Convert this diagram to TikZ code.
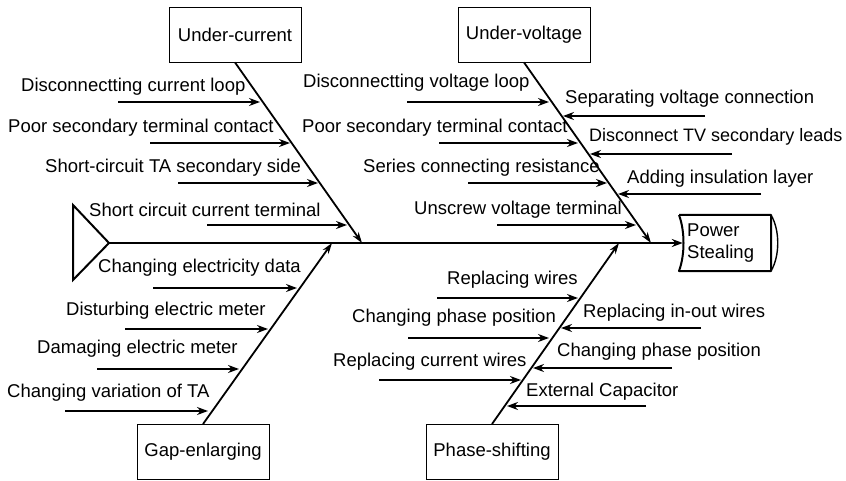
\documentclass[tikz,border=0pt]{standalone}
\usepackage{fontspec}
\setmainfont{Liberation Sans}
\usetikzlibrary{arrows.meta}
\begin{document}
\begin{tikzpicture}[x=1pt,y=-1pt,
  lbl/.style={anchor=west,inner sep=0pt,font=\fontsize{18.5}{20}\selectfont},
  cat/.style={draw,line width=0.9pt,minimum width=132pt,minimum height=55pt,inner sep=0pt,font=\fontsize{18.5}{20}\selectfont},
  bone/.style={line width=1.8pt,-{Stealth[length=11pt,width=7pt]}},
  sub/.style={line width=2.2pt,-{Stealth[length=11pt,width=8pt]}},
  spine/.style={line width=2.2pt,-{Stealth[length=11pt,width=8pt]}}]
\useasboundingbox (0,0) rectangle (846,481);
% head / tail
\coordinate (tip) at (109,243);
\draw[line width=2pt,line join=miter] (73,205) -- (tip) -- (73,280) -- cycle;
\node[inner sep=0pt,minimum width=90pt,minimum height=56pt] (ps) at (728,243) {};
\draw[line width=2pt,line join=round] (679,215) -- (771,215) -- (771,271) -- (679,271)
  .. controls (685,255) and (685,231) .. (679,215);
\draw[line width=1.4pt] (771,215) .. controls (780,230) and (780,256) .. (771,271);
\node[anchor=west,inner sep=0pt,align=left,font=\fontsize{18.5}{22}\selectfont] (pstxt) at (687,243) {Power\\Stealing};
\draw[spine] (tip) -- (ps.west);
% category boxes
\node[cat] (uc) at (235,34.5) {Under-current};
\node[cat] (uv) at (524,34.5) {Under-voltage};
\node[cat] (ge) at (203,452) {Gap-enlarging};
\node[cat] (ph) at (492,452) {Phase-shifting};
% junctions on spine
\coordinate (ucj) at (362,243);
\coordinate (uvj) at (651,243);
\coordinate (gej) at (332,243);
\coordinate (phj) at (619,243);
\draw[bone] (uc.south) -- (ucj);
\draw[bone] (uv.south) -- (uvj);
\draw[bone] (ge.north) -- (gej);
\draw[bone] (ph.north) -- (phj);
% Under-current causes
\coordinate (a1s) at (118,102); \coordinate (a1e) at (260,102);
\coordinate (a2s) at (150,143); \coordinate (a2e) at (290,143);
\coordinate (a3s) at (178,183); \coordinate (a3e) at (318,183);
\coordinate (a4s) at (207,225); \coordinate (a4e) at (347,225);
\draw[sub] (a1s) -- (a1e); \draw[sub] (a2s) -- (a2e);
\draw[sub] (a3s) -- (a3e); \draw[sub] (a4s) -- (a4e);
\node[lbl] (t1) at (21,87) {Disconnectting current loop};
\node[lbl] (t2) at (8,128) {Poor secondary terminal contact};
\node[lbl] (t3) at (45,168) {Short-circuit TA secondary side};
\node[lbl] (t4) at (89,210) {Short circuit current terminal};
% Under-voltage causes (left)
\coordinate (b1s) at (407,102); \coordinate (b1e) at (549,102);
\coordinate (b2s) at (439,143); \coordinate (b2e) at (578,143);
\coordinate (b3s) at (468,183); \coordinate (b3e) at (607,183);
\coordinate (b4s) at (497,225); \coordinate (b4e) at (636,225);
\draw[sub] (b1s) -- (b1e); \draw[sub] (b2s) -- (b2e);
\draw[sub] (b3s) -- (b3e); \draw[sub] (b4s) -- (b4e);
\node[lbl] (u1) at (303,83) {Disconnectting voltage loop};
\node[lbl] (u2) at (302,128) {Poor secondary terminal contact};
\node[lbl] (u3) at (363,168) {Series connecting resistance};
\node[lbl] (u4) at (414,210) {Unscrew voltage terminal};
% Under-voltage causes (right)
\coordinate (c1s) at (705,116); \coordinate (c1e) at (563,116);
\coordinate (c2s) at (732,154); \coordinate (c2e) at (590,154);
\coordinate (c3s) at (761,194); \coordinate (c3e) at (618,194);
\draw[sub] (c1s) -- (c1e); \draw[sub] (c2s) -- (c2e); \draw[sub] (c3s) -- (c3e);
\node[lbl] (v1) at (565,99) {Separating voltage connection};
\node[lbl,font=\fontsize{18}{20}\selectfont] (v2) at (589,137) {Disconnect TV secondary leads};
\node[lbl] (v3) at (627,179) {Adding insulation layer};
% Gap-enlarging causes
\coordinate (d1s) at (153,288); \coordinate (d1e) at (297,288);
\coordinate (d2s) at (125,329); \coordinate (d2e) at (268,329);
\coordinate (d3s) at (97,369);  \coordinate (d3e) at (239,369);
\coordinate (d4s) at (65,411);  \coordinate (d4e) at (208,411);
\draw[sub] (d1s) -- (d1e); \draw[sub] (d2s) -- (d2e);
\draw[sub] (d3s) -- (d3e); \draw[sub] (d4s) -- (d4e);
\node[lbl] (g1) at (98,268) {Changing electricity data};
\node[lbl] (g2) at (66,311) {Disturbing electric meter};
\node[lbl] (g3) at (37,349) {Damaging electric meter};
\node[lbl] (g4) at (7,393) {Changing variation of TA};
% Phase-shifting causes (left)
\coordinate (e1s) at (437,298); \coordinate (e1e) at (578,298);
\coordinate (e2s) at (408,338); \coordinate (e2e) at (549,338);
\coordinate (e3s) at (379,380); \coordinate (e3e) at (521,380);
\draw[sub] (e1s) -- (e1e); \draw[sub] (e2s) -- (e2e); \draw[sub] (e3s) -- (e3e);
\node[lbl] (p1) at (447,280) {Replacing wires};
\node[lbl] (p2) at (352,318) {Changing phase position};
\node[lbl] (p3) at (333,362) {Replacing current wires};
% Phase-shifting causes (right)
\coordinate (f1s) at (701,328); \coordinate (f1e) at (561,328);
\coordinate (f2s) at (672,368); \coordinate (f2e) at (533,368);
\coordinate (f3s) at (646,406); \coordinate (f3e) at (507,406);
\draw[sub] (f1s) -- (f1e); \draw[sub] (f2s) -- (f2e); \draw[sub] (f3s) -- (f3e);
\node[lbl] (q1) at (583,313) {Replacing in-out wires};
\node[lbl] (q2) at (557,352) {Changing phase position};
\node[lbl] (q3) at (526,392) {External Capacitor};
\end{tikzpicture}
\end{document}
